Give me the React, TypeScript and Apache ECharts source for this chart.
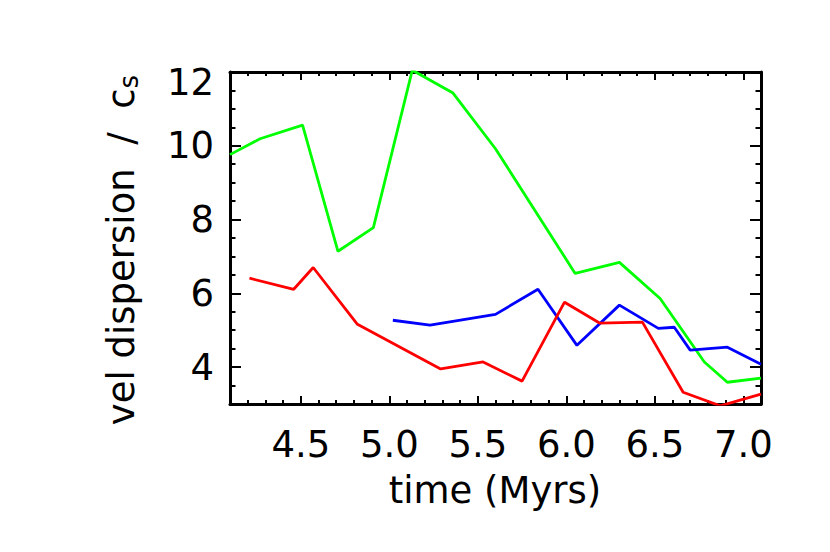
import React, { useEffect, useRef } from "react";
import * as echarts from "echarts";

// ---- data ----
const greenTime = [4.1, 4.27, 4.51, 4.71, 4.91, 5.13, 5.36, 5.6, 6.05, 6.3, 6.53, 6.78, 6.91, 7.1];
const greenVel = [9.76, 10.19, 10.56, 7.14, 7.78, 12.05, 11.43, 9.92, 6.54, 6.84, 5.86, 4.14, 3.59, 3.7];

const blueTime = [5.02, 5.23, 5.6, 5.84, 6.06, 6.3, 6.52, 6.61, 6.7, 6.91, 7.1];
const blueVel = [5.27, 5.14, 5.43, 6.11, 4.59, 5.68, 5.05, 5.08, 4.46, 4.54, 4.08];

const redTime = [4.21, 4.46, 4.57, 4.82, 5.29, 5.53, 5.75, 5.99, 6.19, 6.43, 6.66, 6.87, 7.1];
const redVel = [6.41, 6.11, 6.7, 5.16, 3.95, 4.14, 3.62, 5.76, 5.19, 5.22, 3.32, 2.95, 3.27];

const xRange = [4.1, 7.1];
const yRange = [3, 12];
const xMinorStep = 0.1;
const yMinorStep = 0.5;

const xTitle = "time (Myrs)";
const yTitleMain = "vel dispersion  /  c";
const yTitleSub = "s";

const FONT = "DejaVu Sans, Verdana, sans-serif";
const FS = 37;

function pairs(xs: number[], ys: number[]) {
  return xs.map((x, i) => [x, ys[i]]);
}

export default function App() {
  const ref = useRef<HTMLDivElement>(null);
  useEffect(() => {
    document.body.style.margin = "0";
    if (!ref.current) return;
    const chart = echarts.init(ref.current, null, { renderer: "svg" });

    const lineStyle = { color: "#000", width: 3 };
    const labelStyle = { color: "#000", fontSize: FS, fontFamily: FONT };

    const majorX = (pos: "bottom" | "top", labels: boolean) => ({
      type: "value",
      position: pos,
      min: xRange[0],
      max: xRange[1],
      splitLine: { show: false },
      axisLine: { show: true, onZero: false, lineStyle },
      axisTick: { show: true, inside: true, length: 8, lineStyle: { color: "#000", width: 2 } },
      axisLabel: {
        show: labels,
        showMinLabel: false,
        showMaxLabel: false,
        margin: 22,
        formatter: (v: number) => v.toFixed(1),
        ...labelStyle,
      },
    });
    const minorX = (pos: "bottom" | "top") => ({
      type: "value",
      position: pos,
      min: xRange[0],
      max: xRange[1],
      interval: xMinorStep,
      splitLine: { show: false },
      axisLine: { show: false, onZero: false },
      axisTick: { show: true, inside: true, length: 4, lineStyle: { color: "#000", width: 2 } },
      axisLabel: { show: false },
    });
    const majorY = (pos: "left" | "right", labels: boolean) => ({
      type: "value",
      position: pos,
      min: yRange[0],
      max: yRange[1],
      splitLine: { show: false },
      axisLine: { show: true, onZero: false, lineStyle },
      axisTick: { show: true, inside: true, length: 11, lineStyle: { color: "#000", width: 2 } },
      axisLabel: {
        show: labels,
        showMinLabel: false,
        showMaxLabel: true,
        margin: 16,
        formatter: (v: number) => (v === yRange[1] ? `{top|${v}}` : `${v}`),
        rich: { top: { ...labelStyle, padding: [20, 0, 0, 0] } },
        ...labelStyle,
      },
    });
    const minorY = (pos: "left" | "right") => ({
      type: "value",
      position: pos,
      min: yRange[0],
      max: yRange[1],
      interval: yMinorStep,
      splitLine: { show: false },
      axisLine: { show: false, onZero: false },
      axisTick: { show: true, inside: true, length: 5.5, lineStyle: { color: "#000", width: 2 } },
      axisLabel: { show: false },
    });

    const mk = (name: string, color: string, xs: number[], ys: number[]) => ({
      name,
      type: "line",
      data: pairs(xs, ys),
      xAxisIndex: 0,
      yAxisIndex: 0,
      showSymbol: false,
      symbol: "none",
      clip: true,
      lineStyle: { color, width: 2.8 },
      itemStyle: { color },
    });

    chart.setOption({
      animation: false,
      backgroundColor: "#fff",
      grid: { left: 230, top: 72, right: 69, bottom: 148, containLabel: false },
      xAxis: [majorX("bottom", true), minorX("bottom"), majorX("top", false), minorX("top")],
      yAxis: [majorY("left", true), minorY("left"), majorY("right", false), minorY("right")],
      graphic: [
        {
          type: "text",
          x: 495,
          y: 490,
          style: {
            text: xTitle,
            fill: "#000",
            font: `${FS}px ${FONT}`,
            align: "center",
            verticalAlign: "middle",
          },
        },
        {
          type: "text",
          x: 121,
          y: 250,
          rotation: Math.PI / 2,
          style: {
            text: `{m|${yTitleMain}}{sub|${yTitleSub}}`,
            align: "center",
            verticalAlign: "middle",
            rich: {
              m: { fill: "#000", fontSize: FS, fontFamily: FONT },
              sub: { fill: "#000", fontSize: 26, fontFamily: FONT, padding: [16, 0, 0, 0] },
            },
          },
        },
      ],
      series: [
        mk("green", "#00ff00", greenTime, greenVel),
        mk("blue", "#0000ff", blueTime, blueVel),
        mk("red", "#ff0000", redTime, redVel),
      ],
    });
    return () => chart.dispose();
  }, []);
  return <div ref={ref} style={{ width: 830, height: 552 }} />;
}
